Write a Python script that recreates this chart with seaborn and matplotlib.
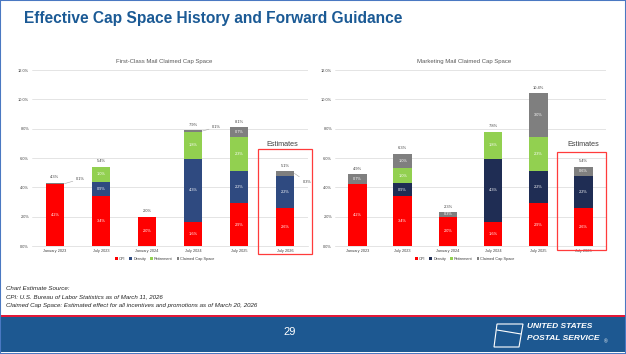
import matplotlib
matplotlib.use("Agg")
import matplotlib.pyplot as plt
import seaborn as sns
import numpy as np
from matplotlib.patches import Rectangle, Polygon, Patch
from matplotlib.lines import Line2D

# ---------------- data ----------------
categories = ["January 2023", "July 2023", "January 2024", "July 2024", "July 2025", "July 2026"]
series_names = ["CPI", "Density", "Retirement", "Claimed Cap Space"]

fcm_cpi = [4.2, 3.43, 2.0, 1.62, 2.9, 2.6]
fcm_density = [0.0, 0.94, 0.0, 4.33, 2.2, 2.2]
fcm_retirement = [0.0, 1.04, 0.0, 1.84, 2.3, 0.0]
fcm_claimed = [0.1, 0.0, 0.0, 0.1, 0.7, 0.3]

mm_cpi = [4.2, 3.4, 2.0, 1.62, 2.9, 2.6]
mm_density = [0.0, 0.9, 0.0, 4.33, 2.2, 2.2]
mm_retirement = [0.0, 1.0, 0.0, 1.84, 2.3, 0.0]
mm_claimed = [0.7, 1.0, 0.3, 0.0, 3.0, 0.6]

y_ticks = [0, 2, 4, 6, 8, 10, 12]

# ---------------- style ----------------
sns.set_theme(style="white")
plt.rcParams["font.family"] = ["Liberation Sans", "DejaVu Sans"]

W, H = 626, 354
fig = plt.figure(figsize=(W / 100, H / 100), dpi=100)
fig.patch.set_facecolor("white")

RED = "#ff0000"
GREEN = "#92d050"
GRAY = "#7f7f7f"
TXT = "#404040"


def px(x, y):
    return x / W, 1 - y / H


def draw_chart(ax, cpi, dens, ret, claimed, dens_color, callouts, title, title_x,
               box, est_xy, legend_x):
    cpi = np.array(cpi); dens = np.array(dens); ret = np.array(ret); claimed = np.array(claimed)
    layers = [cpi, dens, ret, claimed]
    colors = [RED, dens_color, GREEN, GRAY]
    cums = np.cumsum(np.vstack(layers), axis=0)
    # draw tallest (cumulative) first so lower layers overlay it
    for k in range(3, -1, -1):
        sns.barplot(x=categories, y=cums[k], order=categories, color=colors[k],
                    saturation=1, width=0.41, errorbar=None, ax=ax,
                    edgecolor="none", linewidth=0)
    ax.set_ylim(0, 12)
    ax.set_xlim(-0.5, 5.5)
    ax.set_yticks(y_ticks)
    ax.set_yticklabels([f"{t:.1f}%" for t in y_ticks])
    ax.grid(axis="y", color="#d9d9d9", lw=0.5)
    ax.set_axisbelow(True)
    for s in ["top", "right", "left"]:
        ax.spines[s].set_visible(False)
    ax.spines["bottom"].set_color("#d9d9d9")
    ax.spines["bottom"].set_linewidth(0.5)
    ax.tick_params(axis="both", length=0, labelsize=2.8, colors=TXT, pad=2)
    ax.set_xlabel("")
    ax.set_ylabel("")

    totals = cums[3]
    for i in range(len(categories)):
        bottom = 0.0
        for k in range(4):
            v = layers[k][i]
            if v > 0:
                mid = bottom + v / 2
                if k == 3 and i in callouts:
                    dx, dy = callouts[i]
                    ax.annotate(f"{v:.1f}%", xy=(i + 0.205, mid),
                                xytext=(i + dx, totals[i] + dy),
                                fontsize=2.8, color=TXT, ha="left", va="center",
                                arrowprops=dict(arrowstyle="-", color="#a6a6a6", lw=0.4,
                                                shrinkA=0, shrinkB=0))
                else:
                    ax.text(i, mid, f"{v:.1f}%", ha="center", va="center",
                            fontsize=2.8, color="white")
            bottom += v
        ax.text(i, totals[i] + 0.38, f"{totals[i]:.1f}%", ha="center", va="center",
                fontsize=2.9, color=TXT)

    # estimates box
    x0, x1, y0, y1 = box
    ax.add_patch(Rectangle((x0, y0), x1 - x0, y1 - y0, fill=False, edgecolor="#ff3b3b",
                           lw=0.9, clip_on=False, zorder=5))
    ax.text(est_xy[0], est_xy[1], "Estimates", ha="center", va="center",
            fontsize=5.2, color=TXT)

    fig.text(title_x / W, 1 - 61 / H, title, ha="center", va="center",
             fontsize=4.3, color="#595959")

    handles = [Patch(facecolor=c, edgecolor="none") for c in colors]
    fig.legend(handles, series_names, loc="center", bbox_to_anchor=px(legend_x, 259),
               ncol=4, fontsize=2.8, frameon=False, handlelength=0.7, handleheight=0.7,
               handletextpad=0.3, columnspacing=1.0, labelcolor=TXT)


ax1 = fig.add_axes([32 / W, (H - 246) / H, 276 / W, 176 / H])
ax2 = fig.add_axes([335 / W, (H - 246) / H, 271 / W, 176 / H])

draw_chart(ax1, fcm_cpi, fcm_density, fcm_retirement, fcm_claimed, "#2f4a80",
           {0: (0.46, 0.27), 3: (0.42, 0.22), 5: (0.38, -0.74)},
           "First-Class Mail Claimed Cap Space", 164,
           (4.41, 5.59, -0.55, 6.6), (4.93, 6.95), 165)
draw_chart(ax2, mm_cpi, mm_density, mm_retirement, mm_claimed, "#1f2d54",
           {}, "Marketing Mail Claimed Cap Space", 464,
           (4.42, 5.5, -0.27, 6.4), (5.0, 6.95), 465)

# ---------------- slide decorations ----------------
fig.text(24 / W, 1 - 19 / H, "Effective Cap Space History and Forward Guidance",
         ha="left", va="center", fontsize=11.2, fontweight="bold", color="#1b5a95")

notes = ["Chart Estimate Source:",
         "CPI: U.S. Bureau of Labor Statistics as of March 11, 2026",
         "Claimed Cap Space: Estimated effect for all incentives and promotions as of March 20, 2026"]
for j, t in enumerate(notes):
    fig.text(6 / W, 1 - (289 + 8 * j) / H, t, ha="left", va="center",
             fontsize=4.4, style="italic", color="#222222")

fig.add_artist(Rectangle((0, 2 / H), 1, (352 - 317) / H, transform=fig.transFigure,
                         facecolor="#1d5891", edgecolor="none"))
fig.add_artist(Rectangle((0, (H - 317) / H), 1, 2 / H, transform=fig.transFigure,
                         facecolor="#e31837", edgecolor="none"))
fig.text(290 / W, 1 - 332 / H, "29", ha="center", va="center", fontsize=8, color="white")

# simple eagle-mark outline
eagle = [(497, 324), (523, 324), (519, 347), (494, 347)]
fig.add_artist(Polygon([px(*p) for p in eagle], closed=True, fill=False,
                       edgecolor="white", lw=0.8, transform=fig.transFigure))
fig.add_artist(Line2D([px(497, 330)[0], px(521, 334)[0]], [px(497, 330)[1], px(521, 334)[1]],
                      color="white", lw=0.8, transform=fig.transFigure))
fig.text(527 / W, 1 - 327 / H, "UNITED STATES", ha="left", va="center", fontsize=6.0,
         fontweight="bold", style="italic", color="white")
fig.text(527 / W, 1 - 339 / H, "POSTAL SERVICE", ha="left", va="center", fontsize=6.0,
         fontweight="bold", style="italic", color="white")
fig.text(604 / W, 1 - 342 / H, "®", ha="left", va="center", fontsize=3.5, color="white")

fig.add_artist(Rectangle((0, 0), 1, 1, transform=fig.transFigure, fill=False,
                         edgecolor="#4a78c2", lw=1.5))

fig.savefig("out.png", dpi=100)
